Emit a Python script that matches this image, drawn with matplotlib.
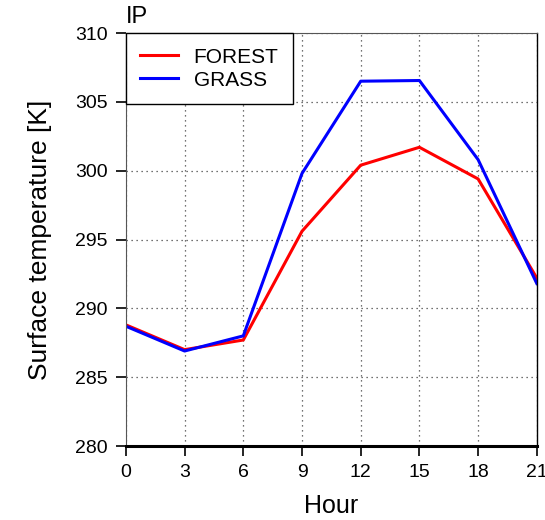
import matplotlib
matplotlib.use("Agg")
import matplotlib.pyplot as plt

plt.rcParams['font.family'] = ['Liberation Sans', 'DejaVu Sans']

# hourly surface temperature, IP region
hours = [0, 3, 6, 9, 12, 15, 18, 21]
forest = [288.8, 287.0, 287.7, 295.6, 300.4, 301.7, 299.4, 292.2]
grass = [288.7, 286.9, 288.0, 299.8, 306.5, 306.55, 300.8, 291.8]

fig = plt.figure(figsize=(5.45, 5.2), dpi=100)
ax = fig.add_axes([0.231, 0.1423, 0.754, 0.7942])

ax.plot(hours, forest, color='#ff0000', lw=2.2, label='FOREST')
ax.plot(hours, grass, color='#0000ff', lw=2.2, label='GRASS')

ax.set_xlim(0, 21)
ax.set_ylim(280, 310)
ax.set_xticks(hours)
ax.set_yticks(range(280, 311, 5))
ax.grid(True, linestyle=(0, (1, 3)), color='#444444', lw=0.9)

ax.tick_params(direction='out', length=7, width=1.2, labelsize=14, pad=6)
for side in ['left', 'top']:
    ax.spines[side].set_color('#555555')
ax.spines['bottom'].set_linewidth(2.2)
ax.spines['right'].set_linewidth(1.0)

ax.set_xlabel('Hour', fontsize=18, labelpad=9)
ax.set_ylabel('Surface temperature [K]', fontsize=19, labelpad=17)
ax.set_title('IP', loc='left', fontsize=17, pad=7)

leg = ax.legend(loc='upper left', fontsize=15, frameon=True, fancybox=False,
                edgecolor='black', framealpha=1, borderaxespad=0,
                handlelength=1.8, handletextpad=0.75, borderpad=0.7,
                labelspacing=0.2)
leg.get_frame().set_linewidth(1.0)

fig.savefig('out.png', dpi=100)
